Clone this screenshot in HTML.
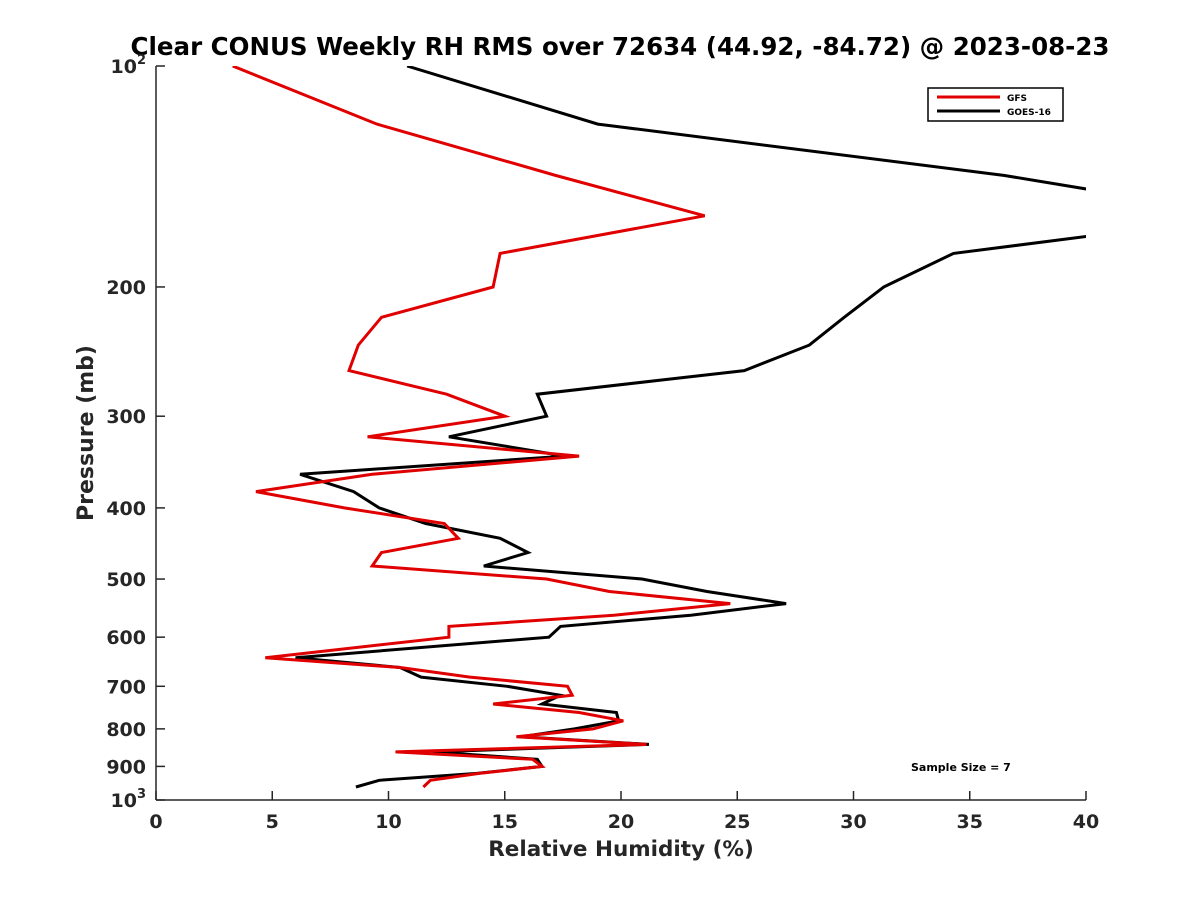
<!DOCTYPE html>
<html><head><meta charset="utf-8"><style>
html,body{margin:0;padding:0;background:#fff;}
svg text{font-family:"DejaVu Sans","Liberation Sans",sans-serif;font-weight:bold;}
</style></head><body>
<svg id="chart" width="1200" height="900" viewBox="0 0 1200 900" xmlns="http://www.w3.org/2000/svg">
<defs><clipPath id="plotclip"><rect x="156" y="66" width="930" height="734"/></clipPath></defs>
<text x="620" y="55" text-anchor="middle" font-size="24.5" fill="#000">Clear CONUS Weekly RH RMS over 72634 (44.92, -84.72) @ 2023-08-23</text>
<g id="axes"></g>
<g id="series" clip-path="url(#plotclip)"></g>
<g>
<rect x="928" y="88" width="135" height="33" fill="#fff" stroke="#000" stroke-width="1.5"/>
<line x1="937" y1="97" x2="1000" y2="97" stroke="#e00000" stroke-width="3"/>
<text x="1007" y="101" font-size="9" fill="#000">GFS</text>
<line x1="937" y1="111" x2="1000" y2="111" stroke="#000" stroke-width="3"/>
<text x="1007" y="115" font-size="9" fill="#000">GOES-16</text>
</g>
<text x="911" y="771" font-size="11" fill="#000">Sample Size = 7</text>
<text x="621" y="856" text-anchor="middle" font-size="21.5" fill="#262626">Relative Humidity (%)</text>
<text transform="translate(93,433) rotate(-90)" text-anchor="middle" font-size="22" fill="#262626">Pressure (mb)</text>
</svg>
<script>
const xTicks = [0,5,10,15,20,25,30,35,40];
const yTicks = [200,300,400,500,600,700,800,900];
const gfsPressure = [100,120,141,160,180,200,220,240,260,280,300,320,340,360,380,400,420,440,460,480,500,520,540,560,580,600,640,660,680,700,720,740,760,780,800,820,840,860,880,900,920,940,960];
const gfsRH = [3.3,9.5,17.2,23.6,14.8,14.5,9.7,8.7,8.3,12.5,15.0,9.1,18.2,9.3,4.3,8.1,12.4,13.0,9.7,9.3,16.8,19.5,24.7,19.7,12.6,12.6,4.7,10.5,13.5,17.7,17.9,14.5,18.2,20.1,18.8,15.5,21.1,10.3,16.2,16.6,13.9,11.8,11.5];
const goesPressure = [100,120,141,160,180,200,220,240,260,280,300,320,340,360,380,400,420,440,460,480,500,520,540,560,580,600,640,660,680,700,720,740,760,780,800,820,840,860,880,900,920,940,960];
const goesRH = [10.8,19.0,36.5,47,34.3,31.3,29.6,28.1,25.3,16.4,16.8,12.6,17.6,6.2,8.5,9.6,11.6,14.8,16.0,14.1,20.9,23.7,27.1,23.0,17.4,16.9,6.0,10.5,11.4,15.1,17.4,16.6,19.8,19.9,18.0,15.7,21.2,11.9,16.4,16.6,13.8,9.6,8.6];

const X0=156,X1=1086,Y0=66,Y1=800;
const xScale=v=>X0+(v-0)/(40-0)*(X1-X0);
const yScale=p=>Y0+Math.log10(p/100)*(Y1-Y0);
const NS="http://www.w3.org/2000/svg";
const axes=document.getElementById('axes');
const ser=document.getElementById('series');
function mk(tag,attrs,parent){const e=document.createElementNS(NS,tag);for(const k in attrs)e.setAttribute(k,attrs[k]);parent.appendChild(e);return e;}
const axCol="#262626";
let l=mk('line',{x1:X0,y1:Y0,x2:X0,y2:Y1,stroke:axCol,'stroke-width':1.5},axes);


l=mk('line',{x1:X0,y1:Y1,x2:X1,y2:Y1,stroke:axCol,'stroke-width':1.5},axes);


xTicks.forEach(v=>{
  const x=xScale(v);
  const t=mk('line',{x1:x,y1:Y1,x2:x,y2:Y1-9,stroke:axCol,'stroke-width':1.5},axes);
  
  
  const tx=mk('text',{x:x,y:Y1+28,'text-anchor':'middle','font-size':19,fill:axCol},axes);
  tx.textContent=v;
  
  
});
const allY=[100].concat(yTicks).concat([1000]);
allY.forEach(p=>{
  const y=yScale(p);
  const t=mk('line',{x1:X0,y1:y,x2:X0+9,y2:y,stroke:axCol,'stroke-width':1.5},axes);
  
  
  const tx=mk('text',{x:X0-10,y:y+7,'text-anchor':'end','font-size':19,fill:axCol},axes);
  
  
  if(p===100||p===1000){
    tx.textContent='10';
    const s=mk('tspan',{dy:-9,'font-size':13},tx);
    s.textContent=p===100?'2':'3';
  } else tx.textContent=p;
});
function drawLine(ps,vs,color,name){
  const pts=ps.map((p,i)=>xScale(vs[i]).toFixed(1)+','+yScale(p).toFixed(1)).join(' ');
  const pl=mk('polyline',{points:pts,fill:'none',stroke:color,'stroke-width':3,'stroke-linejoin':'miter','stroke-miterlimit':4},ser);
  
  
}
drawLine(goesPressure,goesRH,'#000','goes16-line');
drawLine(gfsPressure,gfsRH,'#e00000','gfs-line');
</script>
</body></html>
